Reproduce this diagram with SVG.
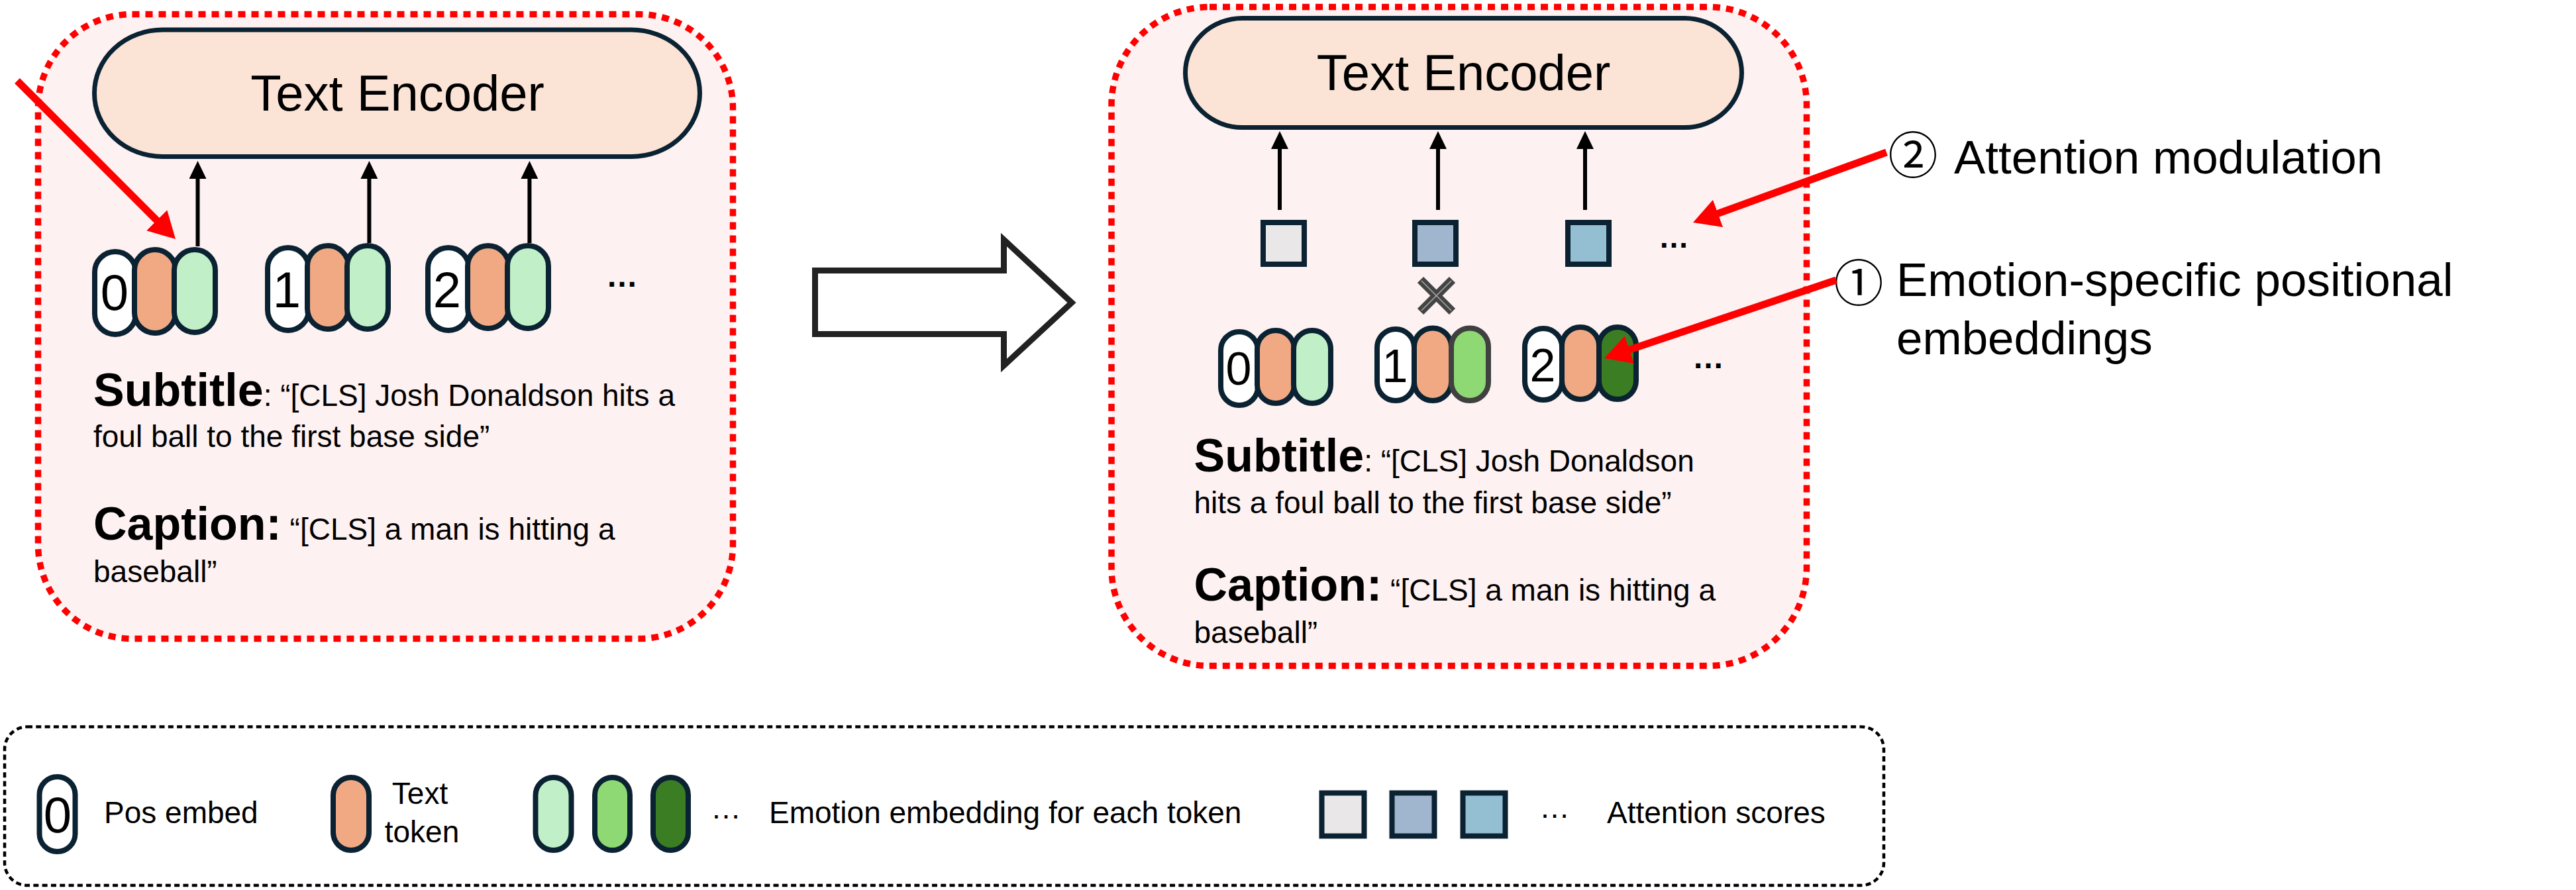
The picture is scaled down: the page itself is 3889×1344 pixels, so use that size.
<svg xmlns="http://www.w3.org/2000/svg" width="3889" height="1344" viewBox="0 0 3889 1344">
<style>
.box{fill:#FDF1F1;stroke:#FF0000;stroke-width:9.5;stroke-dasharray:11 9}
.leg{fill:#FFFFFF;stroke:#000000;stroke-width:4.5;stroke-dasharray:8 5.3}
.enc{fill:#FBE3D6;stroke:#0A2232;stroke-width:7}
.tok{stroke:#0A2232;stroke-width:8}
.pos{fill:#FFFFFF}.tt{fill:#F1A983}.e1{fill:#C1F0C8}.e2{fill:#8ED973}.e3{fill:#3B7D23}
.sq{stroke:#0A2232;stroke-width:8}
.s1{fill:#E9E7E7}.s2{fill:#A0B6CE}.s3{fill:#94BED1}
.t{font-family:"Liberation Sans",Arial,sans-serif;fill:#000000}
.title{font-size:76px}
.body{font-size:46px}
.bold{font-size:70px;font-weight:bold}
.dig{font-size:76px}
.dig2{font-size:70px}
.lab{font-size:71px}
.dots{font-weight:bold}
.cj{font-family:"Noto Sans CJK JP","Noto Sans CJK SC",sans-serif;font-size:75px;fill:#000000}
.blk{stroke:#000000;stroke-width:6;fill:none;marker-end:url(#bh)}
.red{stroke:#FF0000;stroke-width:11;fill:none;marker-end:url(#rh)}
</style>
<defs>
<marker id="bh" viewBox="0 0 27 26" refX="0" refY="13" markerWidth="27" markerHeight="26" markerUnits="userSpaceOnUse" orient="auto"><path d="M0,0 L27,13 L0,26 z" fill="#000000"/></marker>
<marker id="rh" viewBox="0 0 40 44" refX="10" refY="22" markerWidth="40" markerHeight="44" markerUnits="userSpaceOnUse" orient="auto"><path d="M0,0 L40,22 L0,44 z" fill="#FF0000"/></marker>
</defs>
<rect width="3889" height="1344" fill="#FFFFFF"/>

<g id="left-panel">
<rect class="box" x="57.5" y="21.5" width="1049" height="943" rx="142"/>
<g id="left-encoder">
<rect class="enc" x="142.5" y="45" width="914" height="191.5" rx="103" ry="95.5"/>
<text class="t title" x="600" y="167" text-anchor="middle">Text Encoder</text>
</g>
<g id="left-token-0">
<rect class="tok pos" x="143" y="380" width="62" height="125" rx="31"/>
<rect class="tok tt" x="203" y="377" width="62" height="126" rx="31"/>
<rect class="tok e1" x="263" y="377" width="62" height="125" rx="31"/>
<text class="t dig" x="173" y="468" text-anchor="middle">0</text>
</g>
<g id="left-token-1">
<rect class="tok pos" x="404" y="374" width="62" height="125" rx="31"/>
<rect class="tok tt" x="464" y="371" width="62" height="126" rx="31"/>
<rect class="tok e1" x="524" y="371" width="62" height="126" rx="31"/>
<text class="t dig" x="433" y="464" text-anchor="middle">1</text>
</g>
<g id="left-token-2">
<rect class="tok pos" x="646" y="374" width="62" height="125" rx="31"/>
<rect class="tok tt" x="706" y="371" width="62" height="125" rx="31"/>
<rect class="tok e1" x="766" y="371" width="62" height="125" rx="31"/>
<text class="t dig" x="675" y="464" text-anchor="middle">2</text>
</g>
<text class="t dots" x="915" y="433" font-size="48">…</text>
<g id="left-text">
<text class="t" x="141" y="613"><tspan class="bold">Subtitle</tspan><tspan class="body">: “[CLS] Josh Donaldson hits a</tspan></text>
<text class="t body" x="141" y="675">foul ball to the first base side”</text>
<text class="t" x="141" y="815"><tspan class="bold">Caption:</tspan><tspan class="body"> “[CLS] a man is hitting a</tspan></text>
<text class="t body" x="141" y="879">baseball”</text>
</g>
</g>

<g id="transition-arrow">
<polygon points="1230.5,408.5 1515.5,408.5 1515.5,362 1618,457 1515.5,552 1515.5,504.5 1230.5,504.5" fill="#FFFFFF" stroke="#222222" stroke-width="9" stroke-linejoin="miter"/>
</g>

<g id="right-panel">
<rect class="box" x="1678" y="10.5" width="1049.5" height="995" rx="148"/>
<g id="right-encoder">
<rect class="enc" x="1789.5" y="27.5" width="840" height="165" rx="86" ry="82.5"/>
<text class="t title" x="2209.5" y="136" text-anchor="middle">Text Encoder</text>
</g>
<g id="attention-scores">
<rect class="sq s1" x="1907" y="336" width="62" height="63"/>
<rect class="sq s2" x="2136" y="336" width="62" height="63"/>
<rect class="sq s3" x="2367" y="336" width="62" height="63"/>
<text class="t dots" x="2504" y="374" font-size="46">…</text>
</g>
<g id="multiply-mark">
<line x1="2144.5" y1="422.5" x2="2192.5" y2="470.5" stroke="#444444" stroke-width="13"/>
<line x1="2192.5" y1="422.5" x2="2144.5" y2="470.5" stroke="#444444" stroke-width="13"/>
<line x1="2146" y1="424" x2="2191" y2="469" stroke="#A8A8A8" stroke-width="1.6"/>
<line x1="2191" y1="424" x2="2146" y2="469" stroke="#A8A8A8" stroke-width="1.6"/>
</g>
<g id="right-token-0">
<rect class="tok pos" x="1843" y="501" width="56" height="111" rx="28"/>
<rect class="tok tt" x="1898" y="499" width="56" height="110" rx="28"/>
<rect class="tok e1" x="1953" y="499" width="56" height="110" rx="28"/>
<text class="t dig2" x="1870" y="581" text-anchor="middle">0</text>
</g>
<g id="right-token-1">
<rect class="tok pos" x="2079" y="497" width="56" height="108" rx="28"/>
<rect class="tok tt" x="2135" y="495.5" width="56" height="109.5" rx="28"/>
<rect class="e2" x="2191" y="495.5" width="56" height="109.5" rx="28" stroke="#404040" stroke-width="8"/>
<text class="t dig2" x="2106" y="577" text-anchor="middle">1</text>
</g>
<g id="right-token-2">
<rect class="tok pos" x="2302" y="496" width="56" height="108" rx="28"/>
<rect class="tok tt" x="2358" y="494" width="56" height="109" rx="28"/>
<rect class="tok e3" x="2414" y="494" width="56" height="109" rx="28"/>
<text class="t dig2" x="2329" y="576" text-anchor="middle">2</text>
</g>
<text class="t dots" x="2555" y="556" font-size="48">…</text>
<g id="right-text">
<text class="t" x="1802.5" y="712"><tspan class="bold">Subtitle</tspan><tspan class="body">: “[CLS] Josh Donaldson</tspan></text>
<text class="t body" x="1802.5" y="775">hits a foul ball to the first base side”</text>
<text class="t" x="1802.5" y="907"><tspan class="bold">Caption:</tspan><tspan class="body"> “[CLS] a man is hitting a</tspan></text>
<text class="t body" x="1802.5" y="971">baseball”</text>
</g>
</g>

<g id="annotations">
<g id="label-attention-modulation">
<text class="cj" x="2888" y="262" text-anchor="middle">②</text>
<text class="t lab" x="2950" y="262">Attention modulation</text>
</g>
<g id="label-emotion-pos">
<text class="cj" x="2806" y="455" text-anchor="middle">①</text>
<text class="t lab" x="2863" y="447">Emotion-specific positional</text>
<text class="t lab" x="2863" y="535">embeddings</text>
</g>
</g>

<g id="connectors">
<line class="blk" x1="298.5" y1="372" x2="298.5" y2="270"/>
<line class="blk" x1="557.4" y1="367" x2="557.4" y2="270"/>
<line class="blk" x1="799.4" y1="367" x2="799.4" y2="270"/>
<line class="blk" x1="1932" y1="317" x2="1932" y2="225"/>
<line class="blk" x1="2171" y1="317" x2="2171" y2="225"/>
<line class="blk" x1="2393" y1="317" x2="2393" y2="225"/>
<line class="red" x1="26" y1="122" x2="243.8" y2="339.8"/>
<line class="red" x1="2848" y1="230" x2="2584.2" y2="325.8"/>
<line class="red" x1="2772" y1="423" x2="2450.4" y2="531.4"/>
</g>

<g id="legend">
<rect class="leg" x="7" y="1097.5" width="2837" height="239.5" rx="34"/>
<g id="legend-pos">
<rect class="tok pos" x="59.5" y="1173" width="54" height="113" rx="27"/>
<text class="t dig" x="87" y="1257" text-anchor="middle">0</text>
<text class="t body" x="157" y="1243">Pos embed</text>
</g>
<g id="legend-text-token">
<rect class="tok tt" x="503" y="1174" width="54" height="110" rx="27"/>
<text class="t body" x="634" y="1214" text-anchor="middle">Text</text>
<text class="t body" x="637" y="1272" text-anchor="middle">token</text>
</g>
<g id="legend-emotion">
<rect class="tok e1" x="808.5" y="1174" width="54" height="110" rx="27"/>
<rect class="tok e2" x="898" y="1174" width="53" height="110" rx="26.5"/>
<rect class="tok e3" x="986" y="1174" width="53" height="110" rx="26.5"/>
<text class="t" x="1073" y="1236" font-size="46">…</text>
<text class="t body" x="1161" y="1243">Emotion embedding for each token</text>
</g>
<g id="legend-attention">
<rect class="sq s1" x="1995.5" y="1197.5" width="64" height="65" stroke-width="7"/>
<rect class="sq s2" x="2101.5" y="1197.5" width="64" height="65" stroke-width="7"/>
<rect class="sq s3" x="2208.5" y="1197.5" width="64" height="65" stroke-width="7"/>
<text class="t" x="2324" y="1235" font-size="46">…</text>
<text class="t body" x="2426" y="1243">Attention scores</text>
</g>
</g>
</svg>
